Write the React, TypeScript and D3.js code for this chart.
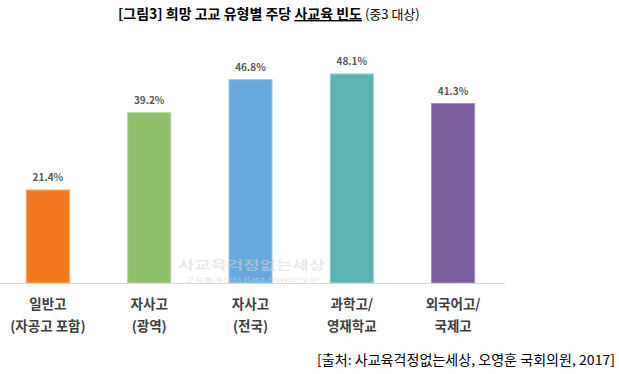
import React from "react";
import * as d3 from "d3";

const categories = ["일반고|(자공고 포함)", "자사고|(광역)", "자사고|(전국)", "과학고/|영재학교", "외국어고/|국제고"];
const values = [21.4, 39.2, 46.8, 48.1, 41.3];
const colors = ["#F47A20", "#8FBF6B", "#66A9DE", "#5DB3B0", "#7B5C9B"];
const strokes = ["#F9A964", "#B5D69B", "#9CC8EC", "#93D0CD", "#A58DBF"];

const W = 619;
const H = 374;
const BASE = 283;
const FONT = "'Noto Sans CJK KR', 'Noto Sans', sans-serif";

export default function App() {
  const x = d3.scaleBand<string>().domain(categories).range([-2, 503]).paddingInner(0.575).paddingOuter(0.28);
  const y = d3.scaleLinear().domain([0, 48.1]).range([BASE, 74]);

  return (
    <svg
      width={W}
      height={H}
      style={{ position: "absolute", left: 0, top: 0, background: "#fff" }}
      fontFamily={FONT}
    >
      {/* title */}
      <text x={118} y={19} fontSize={14} fontWeight={700} fill="#000">
        [그림3] 희망 고교 유형별 주당 <tspan textDecoration="underline">사교육 빈도</tspan>
        <tspan fontWeight={400} fontSize={13}> (중3 대상)</tspan>
      </text>

      {/* bars */}
      {categories.map((c, i) => (
        <g key={c}>
          <rect
            x={x(c)}
            y={y(values[i])}
            width={x.bandwidth()}
            height={BASE - y(values[i])}
            fill={colors[i]}
            stroke={strokes[i]}
            strokeWidth={1}
          />
          <text
            x={(x(c) ?? 0) + x.bandwidth() / 2}
            y={y(values[i]) - 9}
            textAnchor="middle"
            fontSize={10}
            fontWeight={700}
            fill="#595959"
          >
            {values[i].toFixed(1)}%
          </text>
          {c.split("|").map((line, j) => (
            <text
              key={j}
              x={(x(c) ?? 0) + x.bandwidth() / 2}
              y={309 + j * 22}
              textAnchor="middle"
              fontSize={13.5}
              fontWeight={700}
              fill="#404040"
            >
              {line}
            </text>
          ))}
        </g>
      ))}

      {/* baseline */}
      <line x1={0} x2={505} y1={BASE + 0.5} y2={BASE + 0.5} stroke="#D9D9D9" strokeWidth={1} />

      {/* watermark */}
      <text x={178} y={269.5} fontSize={12.5} fill="#d4d4d4" fillOpacity={0.55} fontWeight={700} textLength={147} lengthAdjust="spacingAndGlyphs">
        사교육걱정없는세상
      </text>
      <text x={185} y={281.5} fontSize={6} fill="#d4d4d4" fillOpacity={0.6} textLength={135} lengthAdjust="spacingAndGlyphs">
        교육통계센터 data.noworry.kr
      </text>

      {/* source */}
      <text x={317} y={365} fontSize={13.5} fill="#000" textLength={298} lengthAdjust="spacingAndGlyphs">
        [출처: 사교육걱정없는세상, 오영훈 국회의원, 2017]
      </text>
    </svg>
  );
}
